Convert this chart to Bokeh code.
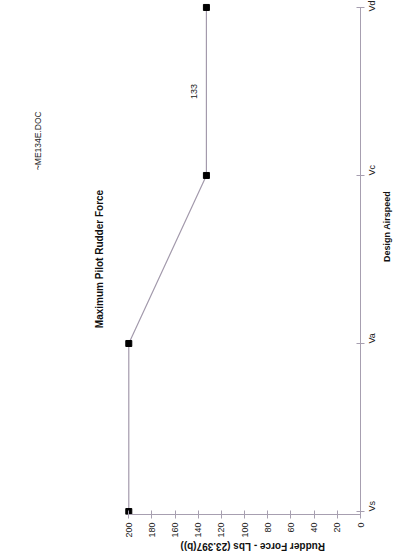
import math
from bokeh.plotting import figure
from bokeh.models import Range1d, FixedTicker, Label, ColumnDataSource, LinearAxis
from bokeh.embed import file_html
from bokeh.resources import INLINE

# ---- data ----
categories = ["Vs", "Va", "Vc", "Vd"]
force = [200, 200, 133, 133]
force_ticks = [0, 20, 40, 60, 80, 100, 120, 140, 160, 180, 200]
title_text = "Maximum Pilot Rudder Force"
doc_text = "~ME134E.DOC"
x_label = "Rudder Force - Lbs (23.397(b))"
y_label = "Design Airspeed"
value_label_text = "133"

FONT = "Liberation Sans"
AXIS_COLOR = "#a79fb0"
LINE_COLOR = "#a39aac"

W, H = 400, 560
BORDER_RIGHT, BORDER_BOTTOM = 38, 43
FRAME_W, FRAME_H = W - BORDER_RIGHT, H - BORDER_BOTTOM
PX_PER_UNIT_X = 1.165
PX_PER_UNIT_Y = 169.0
X_LEFT = FRAME_W / PX_PER_UNIT_X
Y_BOTTOM = -3 / PX_PER_UNIT_Y
Y_TOP = Y_BOTTOM + FRAME_H / PX_PER_UNIT_Y

idx = list(range(len(categories)))

p = figure(width=W, height=H, output_backend="svg", toolbar_location=None,
           x_range=Range1d(X_LEFT, 0), y_range=Range1d(Y_BOTTOM, Y_TOP),
           y_axis_location="right",
           min_border_left=0, min_border_top=0,
           min_border_right=BORDER_RIGHT, min_border_bottom=BORDER_BOTTOM)
p.background_fill_color = "white"
p.border_fill_color = "white"
p.outline_line_color = None
p.grid.visible = False

# page-pixel helpers (layout only)
def px_x(page_x):
    return (FRAME_W - page_x) / PX_PER_UNIT_X

def px_y(page_y):
    return Y_BOTTOM + (FRAME_H - page_y) / PX_PER_UNIT_Y

src = ColumnDataSource(dict(x=force, y=idx))
p.line("x", "y", source=src, line_color=LINE_COLOR, line_width=1.2)
p.scatter("x", "y", source=src, marker="square", size=6,
          fill_color="black", line_color="black")

# value axis (below)
xa = p.xaxis[0]
xa.ticker = FixedTicker(ticks=force_ticks)
xa.bounds = (min(force_ticks), max(force_ticks))
xa.major_label_orientation = math.pi / 2
xa.major_label_text_font = FONT
xa.major_label_text_font_size = "9px"
xa.major_label_text_color = "#222222"
xa.major_label_standoff = 4
xa.axis_line_color = AXIS_COLOR
xa.major_tick_line_color = AXIS_COLOR
xa.major_tick_in = 4
xa.major_tick_out = 4
xa.minor_tick_line_color = None
xa.axis_label = x_label
xa.axis_label_orientation = math.pi
xa.axis_label_standoff = 6
xa.axis_label_text_font = FONT
xa.axis_label_text_font_size = "10px"
xa.axis_label_text_font_style = "bold"
xa.axis_label_text_color = "#111111"

# category axis (right)
ya = p.yaxis[0]
ya.ticker = FixedTicker(ticks=idx)
ya.bounds = (idx[0], idx[-1])
ya.major_label_overrides = {i: c for i, c in zip(idx, categories)}
ya.major_label_orientation = math.pi / 2
ya.major_label_text_font = FONT
ya.major_label_text_font_size = "9px"
ya.major_label_text_color = "#222222"
ya.major_label_standoff = 8
ya.axis_line_color = AXIS_COLOR
ya.major_tick_line_color = AXIS_COLOR
ya.major_tick_in = 4
ya.major_tick_out = 4
ya.minor_tick_line_color = None

# outer right axis carrying only the axis title (as a single centred label)
label_pos = round(px_y(263), 4)
ya2 = LinearAxis(ticker=FixedTicker(ticks=[label_pos]),
                 major_label_overrides={label_pos: y_label},
                 axis_line_color=None, major_tick_line_color=None,
                 minor_tick_line_color=None, major_tick_in=0, major_tick_out=0,
                 minor_tick_in=0, minor_tick_out=0, major_label_standoff=2,
                 major_label_orientation=math.pi / 2,
                 major_label_text_font=FONT, major_label_text_font_size="9px",
                 major_label_text_font_style="bold",
                 major_label_text_color="#111111")
p.add_layout(ya2, "right")

# value label on the Vc-Vd segment
p.add_layout(Label(x=force[2], y=(idx[2] + idx[3]) / 2, text=value_label_text,
                   x_offset=-12, angle=math.pi / 2, text_align="center",
                   text_baseline="middle", text_font=FONT,
                   text_font_size="9px", text_color="#222222"))

# title and document tag
p.add_layout(Label(x=px_x(100), y=px_y(260), text=title_text, angle=math.pi / 2,
                   text_align="center", text_baseline="middle", text_font=FONT,
                   text_font_size="10px", text_font_style="bold", text_color="#111111"))
p.add_layout(Label(x=px_x(38), y=px_y(141), text=doc_text, angle=math.pi / 2,
                   text_align="center", text_baseline="middle", text_font=FONT,
                   text_font_size="8.5px", text_color="#222222"))

open("out.html", "w").write(file_html(p, INLINE))
